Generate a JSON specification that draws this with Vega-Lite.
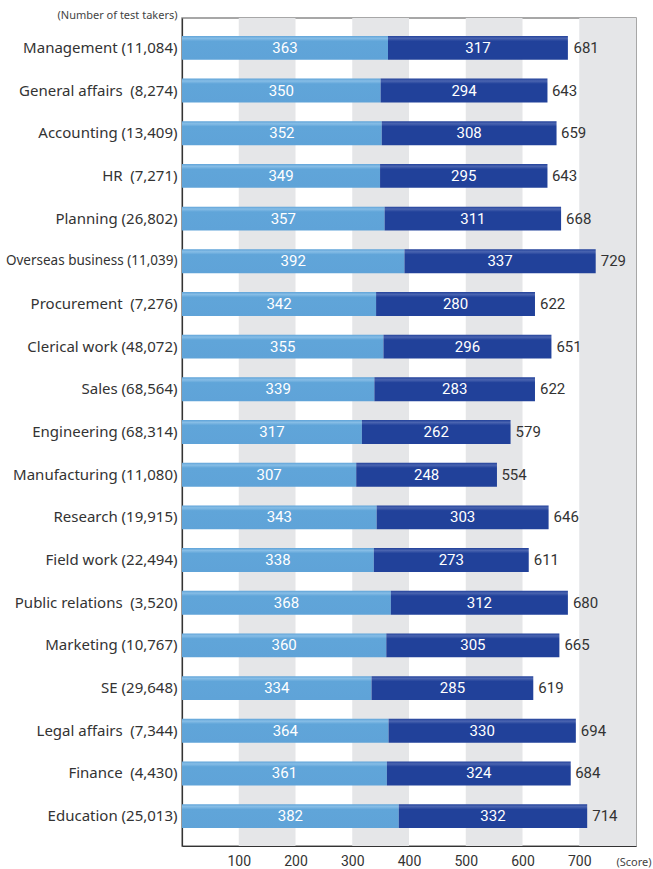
{
  "$schema": "https://vega.github.io/schema/vega-lite/v6.json",
  "width": 454,
  "height": 828,
  "autosize": {"type": "none"},
  "padding": {"left": 182, "top": 18, "right": 17, "bottom": 23},
  "background": "white",
  "config": {
    "view": {"stroke": "#8a8a8a", "strokeWidth": 1.5},
    "font": "Noto Sans"
  },
  "data": {
    "values": [
      {"job": "Management (11,084)", "listening": 363, "reading": 317, "total": 681},
      {"job": "General affairs\u2002(8,274)", "listening": 350, "reading": 294, "total": 643},
      {"job": "Accounting (13,409)", "listening": 352, "reading": 308, "total": 659},
      {"job": "HR\u2002(7,271)", "listening": 349, "reading": 295, "total": 643},
      {"job": "Planning (26,802)", "listening": 357, "reading": 311, "total": 668},
      {"job": "Overseas business (11,039)", "listening": 392, "reading": 337, "total": 729},
      {"job": "Procurement\u2002(7,276)", "listening": 342, "reading": 280, "total": 622},
      {"job": "Clerical work (48,072)", "listening": 355, "reading": 296, "total": 651},
      {"job": "Sales (68,564)", "listening": 339, "reading": 283, "total": 622},
      {"job": "Engineering (68,314)", "listening": 317, "reading": 262, "total": 579},
      {"job": "Manufacturing (11,080)", "listening": 307, "reading": 248, "total": 554},
      {"job": "Research (19,915)", "listening": 343, "reading": 303, "total": 646},
      {"job": "Field work (22,494)", "listening": 338, "reading": 273, "total": 611},
      {"job": "Public relations\u2002(3,520)", "listening": 368, "reading": 312, "total": 680},
      {"job": "Marketing (10,767)", "listening": 360, "reading": 305, "total": 665},
      {"job": "SE (29,648)", "listening": 334, "reading": 285, "total": 619},
      {"job": "Legal affairs\u2002(7,344)", "listening": 364, "reading": 330, "total": 694},
      {"job": "Finance\u2002(4,430)", "listening": 361, "reading": 324, "total": 684},
      {"job": "Education (25,013)", "listening": 382, "reading": 332, "total": 714}
    ]
  },
  "layer": [
    {
      "data": {"values": [
        {"s": 100, "e": 200}, {"s": 300, "e": 400}, {"s": 500, "e": 600}, {"s": 700, "e": 800}
      ]},
      "mark": {"type": "rect", "color": "#e5e6e8"},
      "encoding": {
        "x": {"field": "s", "type": "quantitative", "scale": {"domain": [0, 800], "nice": false, "zero": true},
          "axis": {"values": [100, 200, 300, 400, 500, 600, 700], "grid": false, "ticks": false, "domainColor": "#333", "domainWidth": 1.2,
            "labelFontSize": 14, "labelColor": "#333", "labelFont": "Roboto", "labelPadding": 8,
            "title": "(Score)", "titleFontSize": 11, "titleFontWeight": "normal", "titleColor": "#444",
            "titleAnchor": "end", "titleAlign": "right", "titleBaseline": "middle", "titleX": 469, "titleY": 16}},
        "x2": {"field": "e"}
      }
    },
    {
      "mark": {"type": "bar", "color": {"gradient": "linear", "x1": 0, "y1": 0, "x2": 0, "y2": 1,
        "stops": [{"offset": 0, "color": "#5fa3d8"}, {"offset": 0.1, "color": "#86bde6"}, {"offset": 0.22, "color": "#60a5d9"}, {"offset": 1, "color": "#5fa3d8"}]}},
      "encoding": {
        "y": {"field": "job", "type": "nominal", "sort": null, "scale": {"paddingInner": 0.44, "paddingOuter": 0.42},
          "axis": {"ticks": false, "domainColor": "#333", "domainWidth": 1.2,
            "labelFontSize": {"condition": {"test": "datum.value == 'Overseas business (11,039)'", "value": 13.5}, "value": 15},
            "labelColor": "#333", "labelPadding": 5, "labelLimit": 300,
            "title": "(Number of test takers)", "titleAngle": 0, "titleFontSize": 11, "titleFontWeight": "normal", "titleColor": "#444",
            "titleAlign": "right", "titleBaseline": "middle", "titleX": -5, "titleY": -3}},
        "x": {"field": "listening", "type": "quantitative"}
      }
    },
    {
      "transform": [
        {"fold": ["listening", "reading"], "as": ["key", "value"]},
        {"stack": "value", "groupby": ["job"], "sort": [{"field": "key"}], "as": ["s0", "s1"]},
        {"filter": "datum.key == 'reading'"}
      ],
      "mark": {"type": "bar", "color": {"gradient": "linear", "x1": 0, "y1": 0, "x2": 0, "y2": 1,
        "stops": [{"offset": 0, "color": "#22419a"}, {"offset": 0.1, "color": "#4a64b0"}, {"offset": 0.22, "color": "#21419a"}, {"offset": 1, "color": "#21419a"}]}},
      "encoding": {
        "y": {"field": "job", "type": "nominal", "sort": null},
        "x": {"field": "s0", "type": "quantitative"},
        "x2": {"field": "s1"}
      }
    },
    {
      "transform": [{"fold": ["listening", "reading"], "as": ["key", "value"]}],
      "mark": {"type": "text", "color": "white", "fontSize": 15, "font": "Roboto", "baseline": "middle"},
      "encoding": {
        "y": {"field": "job", "type": "nominal", "sort": null},
        "x": {"field": "value", "type": "quantitative", "stack": "zero", "bandPosition": 0.5},
        "order": {"field": "key"},
        "text": {"field": "value", "type": "quantitative"}
      }
    },
    {
      "mark": {"type": "text", "color": "#333", "fontSize": 15, "font": "Roboto", "align": "left", "dx": 5, "baseline": "middle"},
      "encoding": {
        "y": {"field": "job", "type": "nominal", "sort": null},
        "x": {"field": "total", "type": "quantitative"},
        "text": {"field": "total", "type": "quantitative"}
      }
    }
  ]
}
